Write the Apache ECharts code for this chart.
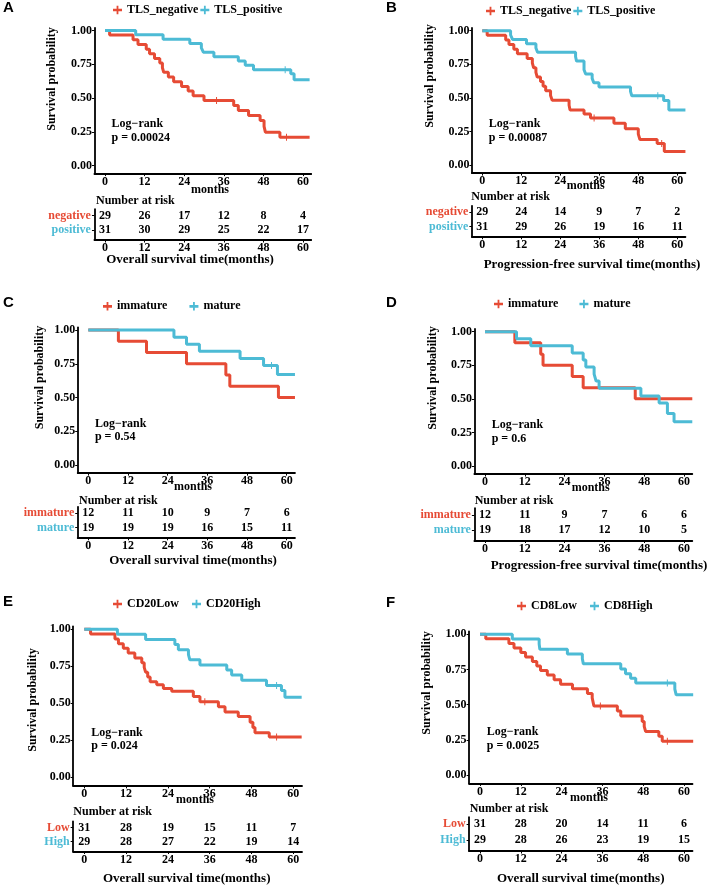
<!DOCTYPE html>
<html><head><meta charset="utf-8">
<script src="https://cdn.jsdelivr.net/npm/echarts@6/dist/echarts.min.js"></script>
<style>html,body{margin:0;padding:0;background:#fff}#c{width:708px;height:887px}</style>
</head><body><div id="c"></div>
<script>
// ---------- DATA ----------
const monthTicks = [0, 12, 24, 36, 48, 60];
const survTicks = [0, 0.25, 0.5, 0.75, 1];

// Panel A : TLS, overall survival
const A_legend = ['TLS_negative', 'TLS_positive'];
const A_groups = ['negative', 'positive'];
const A_lowCurve = [[0,1],[1.4,0.966],[8.5,0.931],[10,0.897],[12.5,0.862],[13.5,0.828],[15,0.793],[16.6,0.759],[17.4,0.724],[17.8,0.69],[19.2,0.655],[20.8,0.621],[23.2,0.586],[25.2,0.552],[26.7,0.517],[30,0.481],[39,0.444],[40.4,0.407],[43.5,0.37],[47,0.333],[48.2,0.29],[48.6,0.247],[53,0.21],[62,0.21]];
const A_highCurve = [[0,1],[9.3,0.968],[17.6,0.935],[25.7,0.903],[29.2,0.871],[29.8,0.839],[33,0.806],[40.4,0.774],[42.5,0.742],[45,0.71],[56.3,0.68],[57.3,0.635],[62,0.635]];
const A_lowCensor = [33.8, 55];
const A_highCensor = [54.6];
const A_lowRisk = [29, 26, 17, 12, 8, 4];
const A_highRisk = [31, 30, 29, 25, 22, 17];
const A_p = 'p = 0.00024';
const A_xTitle = 'Overall survival time(months)';

// Panel B : TLS, progression-free survival
const B_legend = ['TLS_negative', 'TLS_positive'];
const B_groups = ['negative', 'positive'];
const B_lowCurve = [[0,1],[1.5,0.966],[7.2,0.931],[8.2,0.897],[9.7,0.862],[10.8,0.828],[13.8,0.793],[15.4,0.759],[15.8,0.724],[16.5,0.69],[16.9,0.655],[17.9,0.621],[18.7,0.586],[19.5,0.552],[21,0.517],[21.5,0.483],[26.7,0.445],[27,0.41],[31.3,0.38],[33.3,0.35],[40.5,0.31],[44,0.27],[48,0.23],[48.5,0.19],[53.8,0.16],[56,0.1],[62.5,0.1]];
const B_highCurve = [[0,1],[8.7,0.968],[9.3,0.935],[13.6,0.903],[16.5,0.871],[17,0.839],[28.7,0.806],[29,0.774],[31.3,0.71],[31.8,0.677],[33.8,0.645],[34.3,0.613],[35.9,0.58],[45.6,0.548],[46,0.516],[55.8,0.48],[57.4,0.41],[62.5,0.41]];
const B_lowCensor = [34.4, 55.2];
const B_highCensor = [54];
const B_lowRisk = [29, 24, 14, 9, 7, 2];
const B_highRisk = [31, 29, 26, 19, 16, 11];
const B_p = 'p = 0.00087';
const B_xTitle = 'Progression-free survival time(months)';

// Panel C : TLS maturity, overall survival
const C_legend = ['immature', 'mature'];
const C_groups = ['immature', 'mature'];
const C_lowCurve = [[0,1],[9.1,0.917],[17.6,0.833],[29.7,0.75],[41.6,0.667],[42.8,0.583],[57.5,0.5],[62.5,0.5]];
const C_highCurve = [[0,1],[25.9,0.947],[29.7,0.895],[33.6,0.842],[45.9,0.789],[53,0.737],[57.2,0.67],[62.5,0.67]];
const C_lowCensor = [];
const C_highCensor = [55.4];
const C_lowRisk = [12, 11, 10, 9, 7, 6];
const C_highRisk = [19, 19, 19, 16, 15, 11];
const C_p = 'p = 0.54';
const C_xTitle = 'Overall survival time(months)';

// Panel D : TLS maturity, progression-free survival
const D_legend = ['immature', 'mature'];
const D_groups = ['immature', 'mature'];
const D_lowCurve = [[0,1],[9,0.917],[16.8,0.833],[17.5,0.75],[26.3,0.667],[29.6,0.583],[45.3,0.5],[62.5,0.5]];
const D_highCurve = [[0,1],[9.5,0.947],[13.8,0.895],[26.3,0.842],[29.6,0.789],[30.4,0.737],[32.9,0.684],[33.5,0.632],[34.4,0.579],[47,0.521],[52.5,0.469],[55,0.391],[57,0.33],[62.5,0.33]];
const D_lowCensor = [];
const D_highCensor = [];
const D_lowRisk = [12, 11, 9, 7, 6, 6];
const D_highRisk = [19, 18, 17, 12, 10, 5];
const D_p = 'p = 0.6';
const D_xTitle = 'Progression-free survival time(months)';

// Panel E : CD20, overall survival
const E_legend = ['CD20Low', 'CD20High'];
const E_groups = ['Low', 'High'];
const E_lowCurve = [[0,1],[1.8,0.968],[8.8,0.935],[9.8,0.903],[11.2,0.871],[12.6,0.839],[14.5,0.806],[16.5,0.774],[17.2,0.742],[17.6,0.71],[18.2,0.677],[18.9,0.645],[20.8,0.624],[22.7,0.6],[25.1,0.58],[31.3,0.545],[33.2,0.51],[38.5,0.475],[40.4,0.44],[44.2,0.41],[47.6,0.37],[48.4,0.335],[49,0.3],[53.1,0.27],[62.4,0.27]];
const E_highCurve = [[0,1],[9.5,0.966],[17.6,0.931],[26,0.897],[27,0.862],[29.9,0.828],[30.3,0.793],[33.2,0.759],[40.9,0.724],[42.3,0.69],[45.2,0.655],[52.3,0.62],[56.6,0.585],[57.6,0.54],[62.4,0.54]];
const E_lowCensor = [34.6, 55.2];
const E_highCensor = [55.2];
const E_lowRisk = [31, 28, 19, 15, 11, 7];
const E_highRisk = [29, 28, 27, 22, 19, 14];
const E_p = 'p = 0.024';
const E_xTitle = 'Overall survival time(months)';

// Panel F : CD8, overall survival
const F_legend = ['CD8Low', 'CD8High'];
const F_groups = ['Low', 'High'];
const F_lowCurve = [[0,1],[1.7,0.968],[8.5,0.935],[10,0.903],[12,0.871],[13.4,0.839],[15.4,0.806],[16.7,0.774],[17.8,0.742],[19.8,0.71],[21.8,0.677],[23.7,0.645],[27.2,0.613],[31.6,0.58],[33,0.548],[33.5,0.49],[40.4,0.455],[41.4,0.42],[47.7,0.38],[48.3,0.345],[48.7,0.31],[52.6,0.275],[53.6,0.24],[62.7,0.24]];
const F_highCurve = [[0,1],[9.5,0.966],[17.4,0.931],[17.6,0.893],[25.7,0.86],[30.1,0.826],[30.4,0.79],[41.4,0.754],[42.8,0.72],[44.3,0.687],[45.8,0.653],[57.3,0.61],[57.7,0.57],[62.7,0.57]];
const F_lowCensor = [35.4, 55.1];
const F_highCensor = [55.1];
const F_lowRisk = [31, 28, 20, 14, 11, 6];
const F_highRisk = [29, 28, 26, 23, 19, 15];
const F_p = 'p = 0.0025';
const F_xTitle = 'Overall survival time(months)';

// ---------- STYLE / LAYOUT ----------
const RED = '#E64B35', BLUE = '#4DBBD5';
const SERIF = "'Liberation Serif','Times New Roman',serif";
const SANS = "'Liberation Sans',Arial,sans-serif";
const XMIN = -3.2, XMAX = 62.5, YMIN = -0.06, YMAX = 1.02, TMIN = 0.3, TMAX = 2.45;

const layouts = {
  A: {x0:105, x60:303, y1:30.5, y0:165.5, rowT:215.7, rowB:230, letter:[3,8], legL:113, legY:11, legGap:2, yT:[52,79], mo:[210,190], nar:[96,200.7], xt:[190,260]},
  B: {x0:482.3, x60:677.3, y1:30.7, y0:165, rowT:212.3, rowB:226.7, letter:[386,8], legL:486, legY:12, legGap:2, yT:[430,76], mo:[585.7,186], nar:[471.3,196.7], xt:[592,264.3]},
  C: {x0:88.3, x60:286.7, y1:330, y0:465, rowT:513.3, rowB:527.7, letter:[3,303], legL:103, legY:307.3, legGap:22, yT:[40,377.5], mo:[193,486.7], nar:[79,500.7], xt:[193,560.7]},
  D: {x0:485, x60:684, y1:331.7, y0:466, rowT:515, rowB:530, letter:[386,303], legL:494, legY:305, legGap:21, yT:[433.3,378], mo:[590.7,488.3], nar:[474.7,500.7], xt:[599,566]},
  E: {x0:84.3, x60:293.3, y1:629.3, y0:777, rowT:827.7, rowB:841.7, letter:[3,602], legL:113, legY:605, legGap:13, yT:[33.3,700], mo:[195,800], nar:[73.3,811.7], xt:[186.7,878.3]},
  F: {x0:480, x60:684, y1:634.3, y0:775, rowT:824.3, rowB:840, letter:[386,602.5], legL:517, legY:607, legGap:13, yT:[426.7,683], mo:[589,798.3], nar:[469.7,809], xt:[580.7,878.3]}
};

const panels = [
  {key:'A', legend:A_legend, groups:A_groups, curves:[A_lowCurve,A_highCurve], censors:[A_lowCensor,A_highCensor], risk:[A_lowRisk,A_highRisk], p:A_p, xTitle:A_xTitle},
  {key:'B', legend:B_legend, groups:B_groups, curves:[B_lowCurve,B_highCurve], censors:[B_lowCensor,B_highCensor], risk:[B_lowRisk,B_highRisk], p:B_p, xTitle:B_xTitle},
  {key:'C', legend:C_legend, groups:C_groups, curves:[C_lowCurve,C_highCurve], censors:[C_lowCensor,C_highCensor], risk:[C_lowRisk,C_highRisk], p:C_p, xTitle:C_xTitle},
  {key:'D', legend:D_legend, groups:D_groups, curves:[D_lowCurve,D_highCurve], censors:[D_lowCensor,D_highCensor], risk:[D_lowRisk,D_highRisk], p:D_p, xTitle:D_xTitle},
  {key:'E', legend:E_legend, groups:E_groups, curves:[E_lowCurve,E_highCurve], censors:[E_lowCensor,E_highCensor], risk:[E_lowRisk,E_highRisk], p:E_p, xTitle:E_xTitle},
  {key:'F', legend:F_legend, groups:F_groups, curves:[F_lowCurve,F_highCurve], censors:[F_lowCensor,F_highCensor], risk:[F_lowRisk,F_highRisk], p:F_p, xTitle:F_xTitle}
];

function survAt(curve, t) { let v = 1; for (const [ct, cv] of curve) { if (ct <= t) v = cv; } return v; }

const ICON = 'path://M0,3.2H10V6.2H0Z M4,0H6V9.4H4Z';
const CROSS = 'path://M4.3,0H5.7V10H4.3Z M0,4.3H10V5.7H0Z';
const txt = (size) => ({fontFamily: SERIF, fontWeight: 'bold', fontSize: size, color: '#000'});
const AXLINE = {show: true, onZero: false, lineStyle: {color: '#000', width: 1.8}};
const AXTICK = (vals) => ({show: true, length: 2.5, customValues: vals, lineStyle: {color: '#000', width: 1}});

const option = {animation: false, backgroundColor: '#fff', grid: [], xAxis: [], yAxis: [], series: [], legend: [], graphic: []};
const colors = [RED, BLUE];

panels.forEach((p, i) => {
  const L = layouts[p.key];
  const ppm = (L.x60 - L.x0) / 60, ppu = L.y0 - L.y1;
  const left = L.x0 + XMIN * ppm, width = (XMAX - XMIN) * ppm;
  option.grid.push({left: left, width: width, top: L.y1 - (YMAX - 1) * ppu, height: (YMAX - YMIN) * ppu, containLabel: false});
  const s = L.rowB - L.rowT;
  option.grid.push({left: left, width: width, top: L.rowT - (TMAX - 2) * s, height: (TMAX - TMIN) * s, containLabel: false});
  const gKM = 2 * i, gT = 2 * i + 1;
  // KM axes
  option.xAxis.push({gridIndex: gKM, type: 'value', min: XMIN, max: XMAX, axisLine: AXLINE, axisTick: AXTICK(monthTicks),
    axisLabel: Object.assign({customValues: monthTicks, margin: 2}, txt(12)), splitLine: {show: false}});
  option.yAxis.push({gridIndex: gKM, type: 'value', min: YMIN, max: YMAX, axisLine: AXLINE, axisTick: AXTICK(survTicks),
    axisLabel: Object.assign({customValues: survTicks, margin: 2.5, formatter: v => Number(v).toFixed(2)}, txt(12)), splitLine: {show: false}});
  // table axes
  option.xAxis.push({gridIndex: gT, type: 'value', min: XMIN, max: XMAX, axisLine: AXLINE, axisTick: AXTICK(monthTicks),
    axisLabel: Object.assign({customValues: monthTicks, margin: 2}, txt(12)), splitLine: {show: false}});
  option.yAxis.push({gridIndex: gT, type: 'value', min: TMIN, max: TMAX, axisLine: AXLINE, axisTick: AXTICK([1, 2]),
    axisLabel: Object.assign(txt(12), {customValues: [1, 2], margin: 3.5,
      formatter: v => (Math.round(v) === 2 ? p.groups[0] : p.groups[1]),
      color: v => (Math.round(Number(v)) === 2 ? RED : BLUE)}), splitLine: {show: false}});

  // curves (low first, high on top)
  const names = [p.key + '|' + p.legend[0], p.key + '|' + p.legend[1]];
  [0, 1].forEach(k => {
    option.series.push({type: 'line', name: names[k], xAxisIndex: gKM, yAxisIndex: gKM, data: p.curves[k], step: 'end',
      showSymbol: false, symbol: 'none', color: colors[k], lineStyle: {width: 3, color: colors[k]}, clip: false, silent: true, z: 2 + k});
  });
  [0, 1].forEach(k => {
    if (!p.censors[k].length) return;
    option.series.push({type: 'scatter', xAxisIndex: gKM, yAxisIndex: gKM, data: p.censors[k].map(t => [t, survAt(p.curves[k], t)]),
      symbol: CROSS, symbolSize: 7, itemStyle: {color: colors[k], opacity: 1}, silent: true, z: 4});
  });
  // log-rank annotation anchored in data coordinates
  option.series.push({type: 'scatter', xAxisIndex: gKM, yAxisIndex: gKM, data: [[2, 0.255]], symbolSize: 0, silent: true,
    itemStyle: {opacity: 1},
    label: Object.assign({show: true, position: 'right', distance: 0, formatter: 'Log\u2212rank\n' + p.p, lineHeight: 13.5, align: 'left'}, txt(12))});
  // number-at-risk table
  [0, 1].forEach(k => {
    option.series.push({type: 'scatter', xAxisIndex: gT, yAxisIndex: gT, symbolSize: 0, silent: true, itemStyle: {opacity: 1},
      data: monthTicks.map((m, j) => [m, 2 - k, p.risk[k][j]]),
      label: Object.assign({show: true, position: 'inside', formatter: d => String(d.value[2])}, txt(12))});
  });
  // legend
  option.legend.push({data: names, left: L.legL, top: L.legY - 7, itemGap: L.legGap, itemWidth: 9, itemHeight: 9, icon: ICON,
    formatter: n => n.split('|')[1], textStyle: txt(12), selectedMode: false, padding: 0});
  // texts
  option.graphic.push(
    {type: 'text', x: L.letter[0], y: L.letter[1], style: {text: p.key, font: 'bold 15px ' + SANS, fill: '#000', align: 'left', verticalAlign: 'middle'}},
    {type: 'text', x: L.yT[0], y: L.yT[1], rotation: Math.PI / 2, style: {text: 'Survival probability', font: 'bold 12px ' + SERIF, fill: '#000', align: 'center', verticalAlign: 'middle'}},
    {type: 'text', x: L.mo[0], y: L.mo[1], style: {text: 'months', font: 'bold 12px ' + SERIF, fill: '#000', align: 'center', verticalAlign: 'middle'}},
    {type: 'text', x: L.nar[0], y: L.nar[1], style: {text: 'Number at risk', font: 'bold 12px ' + SERIF, fill: '#000', align: 'left', verticalAlign: 'middle'}},
    {type: 'text', x: L.xt[0], y: L.xt[1], style: {text: p.xTitle, font: 'bold 13px ' + SERIF, fill: '#000', align: 'center', verticalAlign: 'middle'}}
  );
});

const chart = echarts.init(document.getElementById('c'), null, {renderer: 'canvas'});
chart.setOption(option);
</script></body></html>
